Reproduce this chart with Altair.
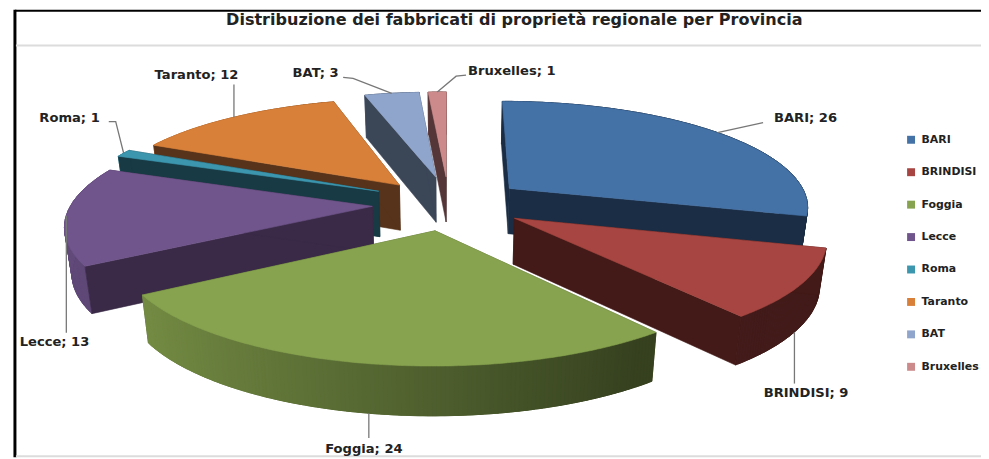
import math
import altair as alt

# ---- data ----
names = ["BARI", "BRINDISI", "Foggia", "Lecce", "Roma", "Taranto", "BAT", "Bruxelles"]
values = [26, 9, 24, 13, 1, 12, 3, 1]
top_colors = ["#4471a6", "#a64541", "#87a34f", "#6f558b", "#3c96ae", "#d8803a", "#8fa5cb", "#cc8b8a"]
cut_colors = ["#1b2d44", "#431a17", "#4d5c2a", "#3a2a47", "#183a45", "#56331a", "#3b4657", "#553638"]

# ---- 3-D pie model (style / geometry constants) ----
W, H = 981, 451
CX, CY, RX, RY, K, DEPTH, EXPLODE = 449, 202, 312, 106, 0.16, 46, 0.22
paint_order = [7, 6, 5, 4, 3, 0, 1, 2]
anchor_on_bottom = {"BRINDISI", "Foggia"}
# per-slice placement tweak: dx, dy, horizontal squeeze about the slice's apex
tweak = {
    "BARI": (11, 0, 0.968),
    "BRINDISI": (11, 3, 0.972),
    "Foggia": (2, 5, 0.973),
    "Lecce": (-5, 2, 0.973),
    "Roma": (-5, -2, 0.98),
    "Taranto": (-3, 0, 0.972),
    "BAT": (2, -3, 1.0),
    "Bruxelles": (3, -3, 1.0),
}
# leader polyline and label offsets from the rim point at the slice's mid angle
leader_offsets = {
    "BARI": ([(46, -10)], (57, -15)),
    "BRINDISI": ([(0, 52)], (-31, 62)),
    "Foggia": ([(0, 25)], (-44, 36)),
    "Lecce": ([(0, 118)], (-47, 127)),
    "Roma": ([(-8, -32), (-15, -32)], (-85, -36)),
    "Taranto": ([(0, -33)], (-80, -43)),
    "BAT": ([(-39, -15), (-49, -16)], (-100, -20)),
    "Bruxelles": ([(19, -16), (29, -17)], (31, -21)),
}


def project(u, v, low=False, ax=None, t=(0, 0, 1.0)):
    s = 1 / (1 + K * v)
    x = CX + RX * u * s
    y = CY - RY * v * s
    if low:
        x = CX + (x - CX) * 0.98
        y = y + DEPTH * s ** 0.4
    if ax is not None:
        x = ax + (x - ax) * t[2] + t[0]
        y = y + t[1]
    return [round(x, 1), round(y, 1)]


def shade(hex_color, f):
    rgb = [int(hex_color[i:i + 2], 16) for i in (1, 3, 5)]
    return "#%02x%02x%02x" % tuple(min(255, int(c * f)) for c in rgb)


def feature(points, color):
    ring = points + [points[0]]
    return {"type": "Feature",
            "geometry": {"type": "Polygon", "coordinates": [ring]},
            "properties": {"c": color}}


total = sum(values)
starts = [sum(values[:i]) / total * 2 * math.pi for i in range(len(values))]
ends = [sum(values[:i + 1]) / total * 2 * math.pi for i in range(len(values))]

features = []
leaders = []
labels = []
for i in paint_order:
    name = names[i]
    a0, a1 = starts[i], ends[i]
    mid = (a0 + a1) / 2
    ou, ov = EXPLODE * math.sin(mid), EXPLODE * math.cos(mid)
    n = max(3, int((a1 - a0) / 0.012))
    angles = [a0 + (a1 - a0) * j / n for j in range(n + 1)]
    rim = [(ou + math.sin(a), ov + math.cos(a)) for a in angles]
    apex = (ou, ov)
    ax = project(*apex)[0]
    t = tweak[name]

    def P(p, low=False):
        return project(p[0], p[1], low, ax, t)

    cuts = [feature([P(apex), P(p), P(p, True), P(apex, True)], cut_colors[i]) for p in (rim[0], rim[-1])]
    faces_viewer = math.cos(mid) < -0.8
    if faces_viewer:
        features.extend(cuts)
    # rim strips, shaded from left to right; each overlaps its neighbour to hide seams
    order = list(range(n))
    if math.sin(mid) > 0:
        order = order[::-1]
    for j in order:
        lo, hi = max(j - 1, 0), min(j + 2, n)
        am = (angles[j] + angles[min(j + 1, n)]) / 2
        f = max(0.4, 0.58 - 0.32 * math.sin(am))
        strip = rim[lo:hi + 1]
        features.append(feature([P(p) for p in strip] + [P(p, True) for p in strip[::-1]],
                                shade(top_colors[i], f)))
    if not faces_viewer:
        features.extend(cuts)
    # top face
    features.append(feature([P(apex)] + [P(p) for p in rim], top_colors[i]))

    rp = (ou + math.sin(mid), ov + math.cos(mid))
    px0, py0 = P(rp, name in anchor_on_bottom)
    offs, tx = leader_offsets[name]
    pts = [(px0, py0)] + [(px0 + dx, py0 + dy) for dx, dy in offs]
    for k, (px, py) in enumerate(pts):
        leaders.append({"id": name, "k": k, "x": px, "y": py})
    labels.append({"t": f"{name}; {values[i]}", "x": px0 + tx[0], "y": py0 + tx[1]})

xs = alt.Scale(domain=[8, 8 + W], range=[0, W])
ys = alt.Scale(domain=[8 + H, 8], range=[H, 0])

pie = alt.Chart(alt.Data(values=features)).mark_geoshape(strokeWidth=0.6).encode(
    fill=alt.Fill("properties.c:N", scale=None, legend=None),
    stroke=alt.Stroke("properties.c:N", scale=None, legend=None),
).project(type="identity", scale=1, translate=[-8, -8])

leader_layer = alt.Chart(alt.Data(values=leaders)).mark_line(color="#777777", strokeWidth=1.3).encode(
    x=alt.X("x:Q", scale=xs, axis=None),
    y=alt.Y("y:Q", scale=ys, axis=None),
    detail="id:N",
    order="k:Q",
)

label_layer = alt.Chart(alt.Data(values=labels)).mark_text(
    align="left", baseline="middle", font="DejaVu Sans", fontSize=13.2, fontWeight="bold", color="#222222"
).encode(
    x=alt.X("x:Q", scale=xs, axis=None),
    y=alt.Y("y:Q", scale=ys, axis=None),
    text="t:N",
)

frame = [
    {"x": 15, "x2": 15, "y": 8, "y2": 459, "c": "#000000", "w": 3},
    {"x": 15, "x2": 989, "y": 9, "y2": 9, "c": "#000000", "w": 2},
    {"x": 16, "x2": 989, "y": 44, "y2": 44, "c": "#dcdcdc", "w": 2},
    {"x": 16, "x2": 989, "y": 458, "y2": 458, "c": "#dcdcdc", "w": 2},
]
frame_layer = alt.Chart(alt.Data(values=frame)).mark_rule().encode(
    x=alt.X("x:Q", scale=xs, axis=None),
    x2="x2:Q",
    y=alt.Y("y:Q", scale=ys, axis=None),
    y2="y2:Q",
    stroke=alt.Stroke("c:N", scale=None, legend=None),
    strokeWidth=alt.StrokeWidth("w:Q", scale=None, legend=None),
)

legend_layer = alt.Chart(alt.Data(values=[{"n": n} for n in names])).mark_square(size=0, opacity=1).encode(
    x=alt.value(0),
    y=alt.value(0),
    color=alt.Color(
        "n:N",
        scale=alt.Scale(domain=names, range=top_colors),
        legend=alt.Legend(
            title=None, orient="none", legendX=905, legendY=125.5,
            symbolType="square", symbolSize=64, symbolStrokeWidth=0,
            labelFont="DejaVu Sans", labelFontSize=11, labelFontWeight="bold", labelColor="#222222",
            rowPadding=20.7, labelOffset=5, labelLimit=90,
        ),
    ),
)

chart = alt.layer(frame_layer, pie, leader_layer, label_layer, legend_layer).resolve_scale(
    x="shared", y="shared"
).properties(
    width=W, height=H, padding=0, autosize=alt.AutoSizeParams(type="none"),
    title=alt.Title(
        "Distribuzione dei fabbricati di proprietà regionale per Provincia",
        font="DejaVu Sans", fontSize=16.2, fontWeight="bold", color="#222222",
        anchor="middle", dx=20, dy=24,
    ),
).configure_view(stroke=None)

chart.save("out.html", embed_options={"renderer": "svg", "actions": False})
